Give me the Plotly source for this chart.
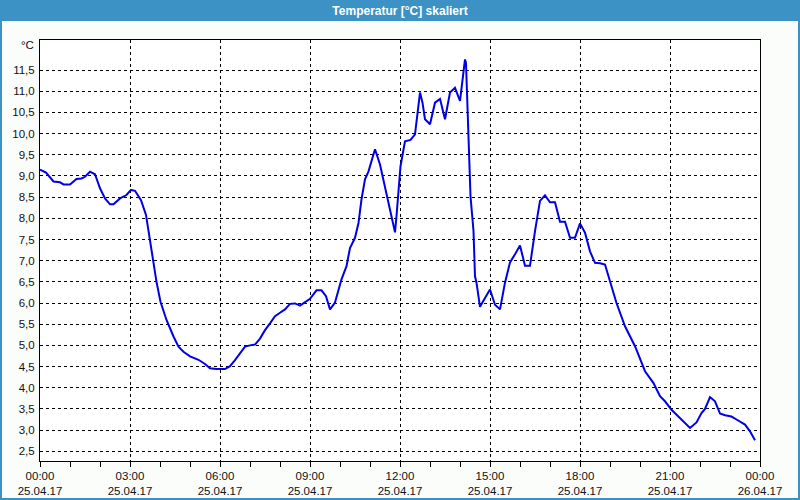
import pandas as pd
import plotly.graph_objects as go

day = "2017-04-25"
times = ["00:00","00:12","00:27","00:40","00:47","01:00","01:13","01:23","01:30","01:40","01:50",
         "02:00","02:10","02:20","02:27","02:40","02:53","03:02","03:10","03:22","03:32","03:39",
         "03:47","03:53","04:01","04:13","04:27","04:37","04:47","05:00","05:17","05:30","05:40",
         "05:53","06:10","06:20","06:30","06:40","06:50","07:00","07:10","07:20","07:30","07:40",
         "07:50","08:00","08:10","08:20","08:30","08:40","08:50","09:00","09:13","09:23","09:32",
         "09:40","09:50","10:03","10:13","10:20","10:30","10:37","10:43","10:50","10:57","11:10",
         "11:20","11:33","11:43","11:50","11:53","11:58","12:01","12:10","12:21","12:30","12:35",
         "12:40","12:45","12:50","13:00","13:10","13:20","13:30","13:40","13:50","14:00","14:05",
         "14:10","14:12","14:17","14:21","14:27","14:30","14:33","14:40","14:50","15:00","15:10",
         "15:20","15:30","15:40","15:50","16:00","16:10","16:20","16:30","16:40","16:50","17:00",
         "17:10","17:20","17:30","17:40","17:50","18:00","18:10","18:20","18:30","18:40","18:50",
         "19:00","19:13","19:30","19:50","20:10","20:27","20:40","20:50","21:03","21:20","21:40",
         "21:53","22:03","22:10","22:20","22:30","22:40","22:50","23:03","23:13","23:30","23:40",
         "23:50"]
temps = [9.15,9.08,8.87,8.85,8.80,8.80,8.93,8.94,8.98,9.10,9.04,
         8.71,8.47,8.33,8.33,8.47,8.55,8.67,8.65,8.43,8.08,7.57,
         7.02,6.50,6.03,5.60,5.21,4.97,4.85,4.74,4.66,4.56,4.46,
         4.44,4.44,4.51,4.65,4.81,4.97,5.00,5.02,5.16,5.36,5.52,
         5.69,5.77,5.85,5.98,5.99,5.94,6.03,6.10,6.30,6.30,6.16,
         5.85,6.01,6.56,6.87,7.30,7.54,7.89,8.45,8.92,9.11,9.63,
         9.27,8.60,8.05,7.67,8.05,8.68,9.23,9.82,9.85,9.98,10.41,
         10.97,10.73,10.34,10.22,10.73,10.82,10.34,10.97,11.08,10.77,11.32,
         11.75,11.67,9.86,8.52,7.70,6.63,6.48,5.91,6.12,6.32,5.96,
         5.85,6.48,6.96,7.15,7.36,6.88,6.88,7.70,8.41,8.54,8.38,
         8.38,7.92,7.92,7.54,7.54,7.88,7.66,7.22,6.95,6.94,6.91,
         6.52,6.00,5.45,4.98,4.39,4.11,3.80,3.68,3.48,3.29,3.05,
         3.18,3.40,3.50,3.78,3.68,3.39,3.35,3.32,3.25,3.13,2.97,
         2.76]

title = "Temperatur [°C] skaliert"
unit = "°C"
y_ticks = [2.5,3.0,3.5,4.0,4.5,5.0,5.5,6.0,6.5,7.0,7.5,8.0,8.5,9.0,9.5,10.0,10.5,11.0,11.5]

x = pd.to_datetime([f"{day} {t}" for t in times])

W, H = 800, 500
L, R, T, B = 40, 40, 40, 39
pw, ph = W - L - R, H - T - B

def px_x(p):
    return (p - L) / pw

def px_y(p):
    return (H - B - p) / ph

fig = go.Figure()
fig.add_trace(go.Scatter(x=x, y=temps, mode="lines",
                         line=dict(color="#0000e8", width=2), hoverinfo="skip"))

font = dict(family="Liberation Sans, Arial, sans-serif", size=11.5, color="#111111")

fig.update_layout(
    width=W, height=H,
    margin=dict(l=L, r=R, t=T, b=B, autoexpand=False),
    paper_bgcolor="#fbfdfb",
    plot_bgcolor="#ffffff",
    separators=",.",
    showlegend=False,
    font=font,
    title=dict(text=title, x=0.5, xref="container", xanchor="center",
               y=1 - 10.5 / H, yref="container", yanchor="middle",
               font=dict(family="Liberation Sans, Arial, sans-serif", size=12,
                         color="#ffffff", weight="bold")),
    xaxis=dict(
        type="date", automargin=False,
        range=["2017-04-25 00:00", "2017-04-26 00:00"],
        dtick=3 * 3600 * 1000,
        tick0="2017-04-25 00:00",
        tickformat="%H:%M<br>%d.%m.%y",
        ticks="outside", ticklen=5, tickcolor="#000000", tickwidth=1,
        ticklabelstandoff=-1,
        minor=dict(dtick=3600 * 1000, ticks="outside", ticklen=5,
                   tickcolor="#000000", showgrid=False),
        showgrid=True, gridcolor="#000000", gridwidth=1, griddash="3px,3px",
        showline=True, linecolor="#000000", linewidth=1, mirror=True,
        zeroline=False, tickfont=font,
    ),
    yaxis=dict(
        automargin=False,
        range=[2.27, 12.21],
        tickvals=y_ticks,
        tickformat=".1f",
        ticks="", ticklabelstandoff=2,
        showgrid=True, gridcolor="#000000", gridwidth=1, griddash="3px,3px",
        showline=True, linecolor="#000000", linewidth=1, mirror=True,
        zeroline=False, tickfont=font,
    ),
)

# title bar
fig.add_shape(type="rect", xref="paper", yref="paper",
              x0=px_x(0), x1=px_x(W), y0=px_y(20), y1=px_y(0),
              fillcolor="#3c92c4", line=dict(width=0), layer="below")
# window border
fig.add_shape(type="rect", xref="paper", yref="paper",
              x0=px_x(1), x1=px_x(W - 1), y0=px_y(H - 1), y1=px_y(20),
              fillcolor="rgba(0,0,0,0)", line=dict(color="#3c92c4", width=2), layer="below")

fig.add_annotation(text=unit, xref="paper", yref="paper",
                   x=px_x(36), y=px_y(45), xanchor="right", yanchor="middle",
                   showarrow=False, font=font)

fig.write_html("out.html")
